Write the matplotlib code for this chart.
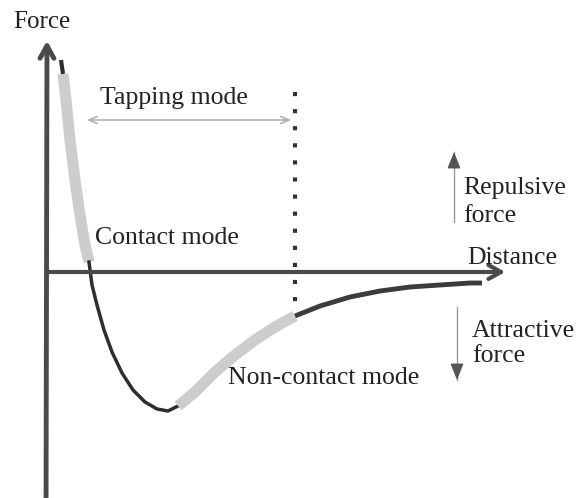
import matplotlib.pyplot as plt

# curve pieces (pixel coords, y downwards)
top_x = [61, 63]
top_y = [60, 74]
rep_x = [63, 66, 70, 75, 80, 85, 89]
rep_y = [74, 100, 140, 180, 215, 245, 262]
mid_x = [89, 92, 97, 104, 112, 122, 133, 145, 157, 168, 178]
mid_y = [262, 285, 305, 330, 352, 373, 390, 402, 409, 411, 406]
nc_x = [178, 195, 215, 235, 255, 275, 295]
nc_y = [406, 392, 372, 355, 340, 327, 316]
tail_x = [295, 320, 350, 380, 410, 440, 470, 482]
tail_y = [316, 306, 297, 291, 287, 285, 283, 283]

plt.rcParams['font.family'] = ['Liberation Serif', 'DejaVu Serif']

fig = plt.figure(figsize=(5.77, 4.98), dpi=100)
ax = fig.add_axes([0, 0, 1, 1])
ax.set_xlim(0, 577)
ax.set_ylim(498, 0)
ax.axis('off')

axis_col = '#4a4a4a'
dark = '#2e2e2e'
light = '#cdcdcd'

# axes
ax.annotate('', xy=(47, 38), xytext=(46, 520),
            arrowprops=dict(arrowstyle='->,head_length=0.9,head_width=0.5', color=axis_col, lw=3.5))
ax.annotate('', xy=(508, 272), xytext=(46, 272),
            arrowprops=dict(arrowstyle='->,head_length=0.9,head_width=0.5', color=axis_col, lw=3))

# curve
ax.plot(top_x, top_y, color=dark, lw=3, solid_capstyle='butt')
ax.plot(rep_x, rep_y, color=light, lw=8, solid_capstyle='butt')
ax.plot(mid_x, mid_y, color=dark, lw=2.5)
ax.plot(nc_x, nc_y, color=light, lw=8, solid_capstyle='butt')
ax.plot(tail_x, tail_y, color='#3c3c3c', lw=3.5, solid_capstyle='butt')

# dotted boundary
ax.plot([295, 295], [92, 306], color='#333333', lw=3, linestyle=(0, (1.0, 3.1)))

# tapping mode range
ax.annotate('', xy=(84, 120), xytext=(294, 120),
            arrowprops=dict(arrowstyle='<->,head_length=0.6,head_width=0.25', color='#b0b0b0', lw=1.2))

# force direction arrows (light shaft, darker head)
for x0, y_tail, y_tip in [(454, 222, 152), (457, 307, 380)]:
    ax.plot([x0, x0], [y_tail, y_tip], color='#999999', lw=1)
    ax.annotate('', xy=(x0, y_tip), xytext=(x0, y_tip + (12 if y_tip < y_tail else -12)),
                arrowprops=dict(arrowstyle='-|>,head_length=0.5,head_width=0.2', color='#555555',
                                lw=1, mutation_scale=20, shrinkA=0, shrinkB=0))

fs = 18.5
tc = '#222222'
ax.text(42, 22, 'Force', fontsize=fs - 0.5, color=tc, ha='center', va='center')
ax.text(100, 98, 'Tapping mode', fontsize=fs, color=tc, ha='left', va='center')
ax.text(95, 238, 'Contact mode', fontsize=fs, color=tc, ha='left', va='center')
ax.text(228, 378, 'Non-contact mode', fontsize=fs, color=tc, ha='left', va='center')
ax.text(467, 258, 'Distance', fontsize=fs, color=tc, ha='left', va='center')
ax.text(463, 188, 'Repulsive', fontsize=fs, color=tc, ha='left', va='center')
ax.text(463, 216, 'force', fontsize=fs, color=tc, ha='left', va='center')
ax.text(472, 331, 'Attractive', fontsize=fs, color=tc, ha='left', va='center')
ax.text(472, 356, 'force', fontsize=fs, color=tc, ha='left', va='center')

fig.savefig('out.png', dpi=100)
